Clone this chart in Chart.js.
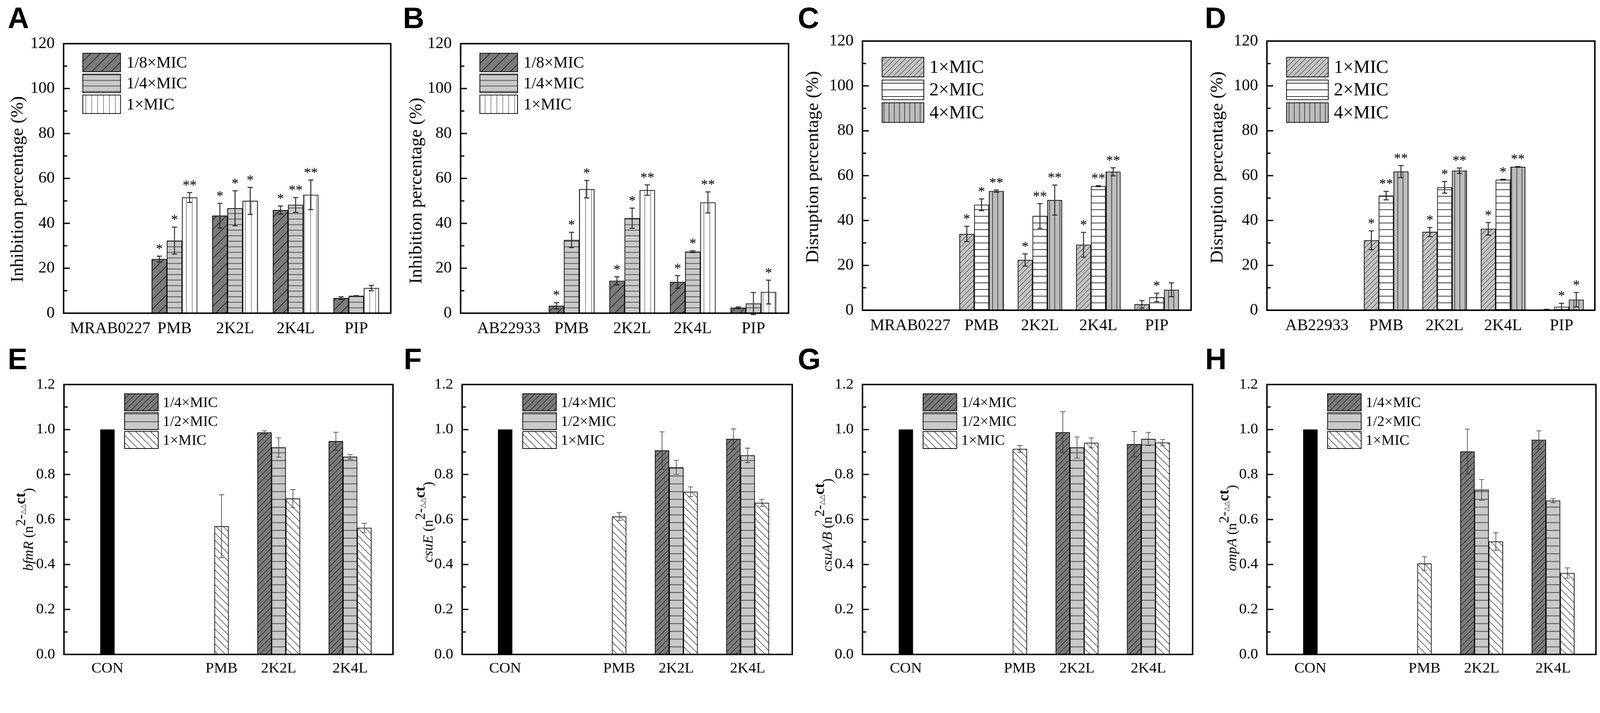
<!DOCTYPE html>
<html>
<head>
<meta charset="utf-8">
<script src="https://cdn.jsdelivr.net/npm/chart.js@4.4.1/dist/chart.umd.min.js"></script>
<style>
    html, body { margin: 0; padding: 0; background: #fff; overflow: hidden; }
    #page { width: 4328px; height: 1825px; position: relative; transform-origin: 0 0; }
    canvas { position: absolute; }
    .tag { position: absolute; font: bold 80px "Liberation Sans", Arial, sans-serif; line-height: 80px; color: #000; }
</style>
</head>
<body>
<div id="page"></div>
<script>
// ---- data: biofilm inhibition / disruption (%) ----
const catsA = ['MRAB0227', 'PMB', '2K2L', '2K4L', 'PIP'];
const catsB = ['AB22933', 'PMB', '2K2L', '2K4L', 'PIP'];

const inhibMrab18 = [null, 24.1, 43.4, 45.9, 6.7];
const inhibMrab18Err = [0, 1.3, 5.5, 1.8, 0.6];
const inhibMrab18Sig = ['', '*', '*', '*', ''];
const inhibMrab14 = [null, 32.3, 46.7, 48.2, 7.7];
const inhibMrab14Err = [0, 6.0, 7.8, 3.3, 0.1];
const inhibMrab14Sig = ['', '*', '*', '**', ''];
const inhibMrab1 = [null, 51.5, 50.0, 52.7, 11.2];
const inhibMrab1Err = [0, 2.2, 6.0, 6.6, 1.2];
const inhibMrab1Sig = ['', '**', '*', '**', ''];

const inhibAb18 = [null, 3.3, 14.4, 13.9, 2.4];
const inhibAb18Err = [0, 1.4, 1.8, 2.8, 0.4];
const inhibAb18Sig = ['', '*', '*', '*', ''];
const inhibAb14 = [null, 32.6, 42.3, 27.4, 4.3];
const inhibAb14Err = [0, 3.4, 4.5, 0.4, 4.9];
const inhibAb14Sig = ['', '*', '*', '*', ''];
const inhibAb1 = [null, 55.2, 54.8, 49.3, 9.4];
const inhibAb1Err = [0, 3.9, 2.3, 4.7, 5.3];
const inhibAb1Sig = ['', '*', '**', '**', '*'];

const disrMrab1 = [null, 34.0, 22.4, 29.2, 2.6];
const disrMrab1Err = [0, 3.4, 2.7, 5.5, 1.7];
const disrMrab1Sig = ['', '*', '*', '*', ''];
const disrMrab2 = [null, 47.0, 42.0, 55.3, 5.7];
const disrMrab2Err = [0, 2.6, 5.5, 0.2, 1.9];
const disrMrab2Sig = ['', '*', '**', '**', '*'];
const disrMrab4 = [null, 53.1, 49.1, 61.7, 9.1];
const disrMrab4Err = [0, 0.5, 6.7, 1.8, 3.1];
const disrMrab4Sig = ['', '**', '**', '**', ''];

const disrAb1 = [null, 31.2, 34.9, 36.3, 0.3];
const disrAb1Err = [0, 4.2, 2.0, 2.8, 0.1];
const disrAb1Sig = ['', '*', '*', '*', ''];
const disrAb2 = [null, 51.1, 54.8, 58.2, 1.5];
const disrAb2Err = [0, 1.9, 2.6, 0.2, 1.6];
const disrAb2Sig = ['', '**', '*', '*', '*'];
const disrAb4 = [null, 61.8, 62.2, 63.9, 4.7];
const disrAb4Err = [0, 2.7, 1.2, 0.2, 3.2];
const disrAb4Sig = ['', '**', '**', '**', '*'];

// ---- data: relative gene expression ----
const geneCats = ['CON', 'PMB', '2K2L', '2K4L'];
const conValues = [1.0, null, null, null];

const bfmR14 = [null, null, 0.987, 0.948];
const bfmR14Err = [0, 0, 0.007, 0.04];
const bfmR12 = [null, null, 0.920, 0.879];
const bfmR12Err = [0, 0, 0.043, 0.01];
const bfmR1 = [null, 0.570, 0.693, 0.563];
const bfmR1Err = [0, 0.14, 0.04, 0.02];

const csuE14 = [null, null, 0.907, 0.958];
const csuE14Err = [0, 0, 0.083, 0.045];
const csuE12 = [null, null, 0.832, 0.885];
const csuE12Err = [0, 0, 0.031, 0.032];
const csuE1 = [null, 0.613, 0.723, 0.674];
const csuE1Err = [0, 0.018, 0.022, 0.016];

const csuAB14 = [null, null, 0.988, 0.935];
const csuAB14Err = [0, 0, 0.091, 0.056];
const csuAB12 = [null, null, 0.920, 0.958];
const csuAB12Err = [0, 0, 0.047, 0.029];
const csuAB1 = [null, 0.914, 0.941, 0.942];
const csuAB1Err = [0, 0.015, 0.022, 0.014];

const ompA14 = [null, null, 0.902, 0.954];
const ompA14Err = [0, 0, 0.10, 0.04];
const ompA12 = [null, null, 0.732, 0.684];
const ompA12Err = [0, 0, 0.046, 0.009];
const ompA1 = [null, 0.404, 0.502, 0.362];
const ompA1Err = [0, 0.03, 0.039, 0.023];

// ---- page: keep the 4328x1825 figure inside the viewport ----
const PAGE_W = 4328, PAGE_H = 1825;
const page = document.getElementById('page');
const fit = Math.min(window.innerWidth / PAGE_W, window.innerHeight / PAGE_H) || 1;
page.style.transform = 'scale(' + fit + ')';

// ---- styles ----
const SERIF = '"Liberation Serif", "Times New Roman", serif';
Chart.defaults.font.family = SERIF;
Chart.defaults.color = '#000';

function makePattern(kind, bg, line, size, width) {
    const c = document.createElement('canvas');
    c.width = size;
    c.height = size;
    const g = c.getContext('2d');
    g.fillStyle = bg;
    g.fillRect(0, 0, size, size);
    g.strokeStyle = line;
    g.lineWidth = width;
    g.beginPath();
    if (kind === 'h') {
        g.moveTo(0, size / 2); g.lineTo(size, size / 2);
    } else if (kind === 'v') {
        g.moveTo(size / 2, 0); g.lineTo(size / 2, size);
    } else if (kind === '/') {
        g.moveTo(0, size); g.lineTo(size, 0);
        g.moveTo(-size / 2, size / 2); g.lineTo(size / 2, -size / 2);
        g.moveTo(size / 2, size * 1.5); g.lineTo(size * 1.5, size / 2);
    } else if (kind === '\\') {
        g.moveTo(0, 0); g.lineTo(size, size);
        g.moveTo(size / 2, -size / 2); g.lineTo(size * 1.5, size / 2);
        g.moveTo(-size / 2, size / 2); g.lineTo(size / 2, size * 1.5);
    }
    g.stroke();
    return g.createPattern(c, 'repeat');
}

const FILL = {
    darkSlash: makePattern('/', '#7b7b7b', '#2a2a2a', 26, 2),
    grayHoriz: makePattern('h', '#c9c9c9', '#4a4a4a', 15, 2),
    whiteVert: makePattern('v', '#ffffff', '#8c8c8c', 16, 2),
    lightSlash: makePattern('/', '#c4c4c4', '#505050', 14, 1.5),
    whiteHoriz: makePattern('h', '#ffffff', '#333333', 18, 2),
    grayVert: makePattern('v', '#bdbdbd', '#444444', 14, 2),
    darkSlashFine: makePattern('/', '#7b7b7b', '#222222', 16, 1.5),
    grayHorizWide: makePattern('h', '#c9c9c9', '#444444', 21, 2),
    whiteBack: makePattern('\\', '#ffffff', '#333333', 20, 1.5)
};

function bars(label, values, errors, stars, fill, thick, extra) {
    return Object.assign({
        label,
        data: values.map((v, i) => ({ x: i + 1, y: v })),
        errors,
        stars,
        backgroundColor: fill,
        borderColor: '#000',
        borderWidth: 2,
        barThickness: thick
    }, extra || {});
}

function drawTitle(ctx, parts, cx, cy) {
    ctx.save();
    ctx.translate(cx, cy);
    ctx.rotate(-Math.PI / 2);
    ctx.textBaseline = 'middle';
    ctx.textAlign = 'left';
    ctx.fillStyle = '#000';
    let total = 0;
    const widths = parts.map(p => {
        ctx.font = p.font;
        const w = ctx.measureText(p.text).width;
        total += w;
        return w;
    });
    let x = -total / 2;
    parts.forEach((p, i) => {
        ctx.font = p.font;
        ctx.fillText(p.text, x, -(p.rise || 0));
        x += widths[i];
    });
    ctx.restore();
}

// frame, inner ticks, error bars, stars, legend and y title
function decor(P) {
    return {
        id: 'decor' + P.id,
        afterDatasetsDraw(chart) {
            const ctx = chart.ctx;
            const y = chart.scales.y;
            ctx.save();
            chart.data.datasets.forEach((ds, di) => {
                const meta = chart.getDatasetMeta(di);
                ds.data.forEach((pt, i) => {
                    if (pt.y === null)
                        return;
                    const el = meta.data[i];
                    const e = ds.errors ? ds.errors[i] : 0;
                    const top = y.getPixelForValue(pt.y + e);
                    if (e > 0) {
                        const bot = y.getPixelForValue(pt.y - e);
                        ctx.strokeStyle = P.errColor;
                        ctx.lineWidth = P.errWidth;
                        ctx.beginPath();
                        ctx.moveTo(el.x, top); ctx.lineTo(el.x, bot);
                        ctx.moveTo(el.x - P.cap, top); ctx.lineTo(el.x + P.cap, top);
                        ctx.moveTo(el.x - P.cap, bot); ctx.lineTo(el.x + P.cap, bot);
                        ctx.stroke();
                    }
                    const s = ds.stars && ds.stars[i];
                    if (s) {
                        ctx.fillStyle = '#000';
                        ctx.font = P.starFont;
                        ctx.textAlign = 'center';
                        ctx.textBaseline = 'alphabetic';
                        ctx.fillText(s, el.x, top - P.starGap);
                    }
                });
            });
            ctx.restore();
        },
        afterDraw(chart) {
            const ctx = chart.ctx;
            const a = chart.chartArea;
            const y = chart.scales.y;
            ctx.save();
            ctx.strokeStyle = '#000';
            ctx.lineWidth = 4;
            ctx.strokeRect(a.left, a.top, a.right - a.left, a.bottom - a.top);

            // major ticks at labels, minor ticks halfway, both pointing inwards
            ctx.lineWidth = 3.5;
            ctx.beginPath();
            const t = y.ticks;
            for (let i = 0; i < t.length; i++) {
                const py = y.getPixelForValue(t[i].value);
                ctx.moveTo(a.left, py);
                ctx.lineTo(a.left + P.majorLen, py);
                if (i < t.length - 1) {
                    const pm = y.getPixelForValue((t[i].value + t[i + 1].value) / 2);
                    ctx.moveTo(a.left, pm);
                    ctx.lineTo(a.left + P.minorLen, pm);
                }
            }
            ctx.stroke();

            const lg = P.legend;
            chart.data.datasets.filter(d => !d.hideInLegend).forEach((d, k) => {
                const bx = a.left + lg.x;
                const by = a.top + lg.y + k * lg.step;
                ctx.fillStyle = d.backgroundColor;
                ctx.fillRect(bx, by, lg.w, lg.h);
                ctx.strokeStyle = '#000';
                ctx.lineWidth = 2;
                ctx.strokeRect(bx, by, lg.w, lg.h);
                ctx.fillStyle = '#000';
                ctx.font = lg.font;
                ctx.textAlign = 'left';
                ctx.textBaseline = 'middle';
                ctx.fillText(d.label, bx + lg.w + lg.gap, by + lg.h / 2 + 2);
            });
            ctx.restore();

            drawTitle(ctx, P.title, P.titleX, P.titleY);
        }
    };
}

function build(P, cats, datasets) {
    const cv = document.createElement('canvas');
    cv.width = P.w;
    cv.height = P.h;
    cv.style.left = P.left + 'px';
    cv.style.top = P.top + 'px';
    cv.style.width = P.w + 'px';
    cv.style.height = P.h + 'px';
    page.appendChild(cv);

    // tick labels sit under the bars that are actually drawn
    const unitPx = (P.R - P.L) / (P.xMax - P.xMin);
    const slot = P.thick / unitPx;
    const n = datasets.length;
    const labelAt = cats.map((c, i) => {
        const xs = [];
        datasets.forEach((d, j) => {
            if (d.data[i].y !== null)
                xs.push(i + 1 + (j - (n - 1) / 2) * slot);
        });
        return xs.length
            ? xs.reduce((s, v) => s + v, 0) / xs.length
            : i + 1 + (P.emptyShift || 0) / unitPx;
    });

    return new Chart(cv, {
        type: 'bar',
        data: { datasets },
        plugins: [decor(P)],
        options: {
            responsive: false,
            animation: false,
            devicePixelRatio: 1,
            layout: { padding: { left: 0, top: P.T, right: P.w - P.R, bottom: 0 } },
            plugins: { legend: { display: false }, tooltip: { enabled: false } },
            scales: {
                x: {
                    type: 'linear',
                    offset: false,
                    min: P.xMin,
                    max: P.xMax,
                    grid: { display: false, offset: false },
                    border: { display: false },
                    afterBuildTicks: s => { s.ticks = labelAt.map(v => ({ value: v })); },
                    afterFit: s => { s.height = P.h - P.B; },
                    ticks: {
                        font: { family: SERIF, size: P.tickSize },
                        color: '#000',
                        padding: P.xPad,
                        maxRotation: 0,
                        autoSkip: false,
                        callback: (v, i) => cats[i]
                    }
                },
                y: {
                    min: 0,
                    max: P.yMax,
                    grid: { display: false },
                    border: { display: false },
                    afterFit: s => { s.width = P.L; },
                    ticks: {
                        stepSize: P.yStep,
                        font: { family: SERIF, size: P.tickSize },
                        color: '#000',
                        padding: P.yPad,
                        callback: v => P.yDigits ? v.toFixed(P.yDigits) : Math.round(v)
                    }
                }
            }
        }
    });
}

// ---- layout ----
const topCommon = {
    h: 920, top: 0, yMax: 120, yStep: 20, yDigits: 0, tickSize: 44, xPad: 8, yPad: 16,
    starFont: '38px ' + SERIF, starGap: 8, errColor: '#222', errWidth: 2.5, cap: 7,
    majorLen: 17, minorLen: 10
};
const botCommon = {
    h: 905, top: 920, yMax: 1.2, yStep: 0.2, yDigits: 1, tickSize: 41, xPad: 6, yPad: 16,
    starFont: '38px ' + SERIF, starGap: 8, errColor: '#333', errWidth: 1.6, cap: 7,
    majorLen: 17, minorLen: 10, thick: 38.5,
    legend: { x: 164, y: 25, w: 91, h: 46, step: 51, font: '40px ' + SERIF, gap: 12 }
};
const legendTopAB = { x: 52, y: 26, w: 102, h: 50, step: 56.5, font: '44px ' + SERIF, gap: 16 };
const legendTopCD = { x: 53, y: 44, w: 113, h: 53, step: 61.5, font: '50px ' + SERIF, gap: 15 };

const TITLE_FONT = '49px ' + SERIF;
function geneTitle(gene) {
    return [
        { text: gene, font: 'italic 38px ' + SERIF },
        { text: ' (n', font: '38px ' + SERIF },
        { text: '2-', font: '38px ' + SERIF, rise: 21 },
        { text: '\u25B3\u25B3', font: '18px "DejaVu Sans", sans-serif', rise: 16 },
        { text: 'ct', font: 'bold 40px ' + SERIF, rise: 21 },
        { text: ')', font: '38px ' + SERIF }
    ];
}

const PA = Object.assign({}, topCommon, { id: 'A', left: 0, w: 1080, L: 172, T: 118, R: 1057, B: 847,
    xMin: 0.17, xMax: 5.57, thick: 41, legend: legendTopAB, emptyShift: -10,
    title: [{ text: 'Inhibition percentage (%)', font: TITLE_FONT }], titleX: 49, titleY: 512 });
const PB = Object.assign({}, topCommon, { id: 'B', left: 1080, w: 1080, L: 166, T: 118, R: 1053, B: 847,
    xMin: 0.17, xMax: 5.58, thick: 41, legend: legendTopAB, emptyShift: -6,
    title: [{ text: 'Inhibition percentage (%)', font: TITLE_FONT }], titleX: 47, titleY: 516 });
const PC = Object.assign({}, topCommon, { id: 'C', left: 2160, w: 1068, L: 173, T: 111, R: 1062, B: 839,
    xMin: -0.04, xMax: 5.59, thick: 40, legend: legendTopCD, emptyShift: -35,
    title: [{ text: 'Disruption percentage (%)', font: TITLE_FONT }], titleX: 40, titleY: 452 });
const PD = Object.assign({}, topCommon, { id: 'D', left: 3228, w: 1100, L: 199, T: 111, R: 1086, B: 839,
    xMin: -0.04, xMax: 5.57, thick: 40, legend: legendTopCD, emptyShift: -29,
    title: [{ text: 'Disruption percentage (%)', font: TITLE_FONT }], titleX: 66, titleY: 453 });

const PE = Object.assign({}, botCommon, { id: 'E', left: 0, w: 1080, L: 173, T: 120, R: 1063, B: 850,
    xMin: 0.093, xMax: 4.70, title: geneTitle('bfmR'), titleX: 79, titleY: 512 });
const PF = Object.assign({}, botCommon, { id: 'F', left: 1080, w: 1080, L: 170, T: 120, R: 1063, B: 850,
    xMin: 0.098, xMax: 4.725, title: geneTitle('csuE'), titleX: 80, titleY: 492 });
const PG = Object.assign({}, botCommon, { id: 'G', left: 2160, w: 1068, L: 173, T: 120, R: 1066, B: 850,
    xMin: 0.093, xMax: 4.72, title: geneTitle('csuA/B'), titleX: 80, titleY: 500 });
const PH = Object.assign({}, botCommon, { id: 'H', left: 3228, w: 1100, L: 199, T: 120, R: 1089, B: 850,
    xMin: 0.093, xMax: 4.70, title: geneTitle('ompA'), titleX: 106, titleY: 508 });

build(PA, catsA, [
    bars('1/8×MIC', inhibMrab18, inhibMrab18Err, inhibMrab18Sig, FILL.darkSlash, PA.thick),
    bars('1/4×MIC', inhibMrab14, inhibMrab14Err, inhibMrab14Sig, FILL.grayHoriz, PA.thick),
    bars('1×MIC', inhibMrab1, inhibMrab1Err, inhibMrab1Sig, FILL.whiteVert, PA.thick)
]);
build(PB, catsB, [
    bars('1/8×MIC', inhibAb18, inhibAb18Err, inhibAb18Sig, FILL.darkSlash, PB.thick),
    bars('1/4×MIC', inhibAb14, inhibAb14Err, inhibAb14Sig, FILL.grayHoriz, PB.thick),
    bars('1×MIC', inhibAb1, inhibAb1Err, inhibAb1Sig, FILL.whiteVert, PB.thick)
]);
build(PC, catsA, [
    bars('1×MIC', disrMrab1, disrMrab1Err, disrMrab1Sig, FILL.lightSlash, PC.thick),
    bars('2×MIC', disrMrab2, disrMrab2Err, disrMrab2Sig, FILL.whiteHoriz, PC.thick),
    bars('4×MIC', disrMrab4, disrMrab4Err, disrMrab4Sig, FILL.grayVert, PC.thick)
]);
build(PD, catsB, [
    bars('1×MIC', disrAb1, disrAb1Err, disrAb1Sig, FILL.lightSlash, PD.thick),
    bars('2×MIC', disrAb2, disrAb2Err, disrAb2Sig, FILL.whiteHoriz, PD.thick),
    bars('4×MIC', disrAb4, disrAb4Err, disrAb4Sig, FILL.grayVert, PD.thick)
]);

function geneSets(P, v14, e14, v12, e12, v1, e1) {
    return [
        bars('CON', conValues, null, null, '#000000', P.thick, { hideInLegend: true }),
        bars('1/4×MIC', v14, e14, null, FILL.darkSlashFine, P.thick),
        bars('1/2×MIC', v12, e12, null, FILL.grayHorizWide, P.thick),
        bars('1×MIC', v1, e1, null, FILL.whiteBack, P.thick)
    ];
}
build(PE, geneCats, geneSets(PE, bfmR14, bfmR14Err, bfmR12, bfmR12Err, bfmR1, bfmR1Err));
build(PF, geneCats, geneSets(PF, csuE14, csuE14Err, csuE12, csuE12Err, csuE1, csuE1Err));
build(PG, geneCats, geneSets(PG, csuAB14, csuAB14Err, csuAB12, csuAB12Err, csuAB1, csuAB1Err));
build(PH, geneCats, geneSets(PH, ompA14, ompA14Err, ompA12, ompA12Err, ompA1, ompA1Err));

// panel letters
[['A', 21, 9], ['B', 1090, 9], ['C', 2158, 9], ['D', 3259, 9],
 ['E', 21, 932], ['F', 1092, 932], ['G', 2158, 932], ['H', 3260, 932]].forEach(([t, x, yy]) => {
    const d = document.createElement('div');
    d.className = 'tag';
    d.textContent = t;
    d.style.left = x + 'px';
    d.style.top = yy + 'px';
    page.appendChild(d);
});
</script>
</body>
</html>
